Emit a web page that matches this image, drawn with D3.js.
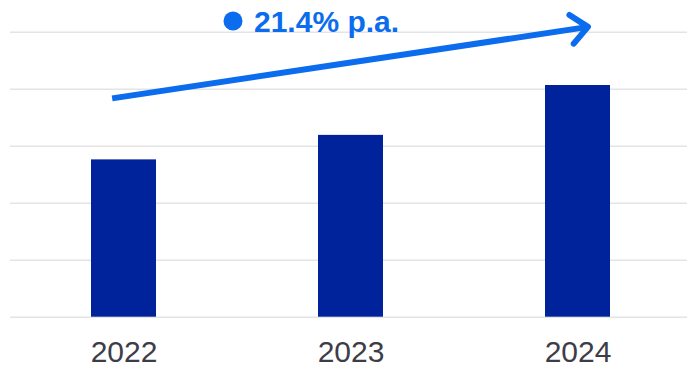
<!DOCTYPE html>
<html><head><meta charset="utf-8">
<script src="https://cdn.jsdelivr.net/npm/d3@7"></script>
<style>html,body{margin:0;padding:0;background:#fff;}svg{display:block;}</style>
</head><body>
<svg id="c" width="687" height="369"></svg>
<script>
const categories = ["2022", "2023", "2024"];
const values = [2.76, 3.19, 4.065];
const gridTicks = [0, 1, 2, 3, 4, 5];
const growthLabel = "21.4% p.a.";
// arrow annotation: [category offset, value]
const arrowStart = [ -0.05, 3.83 ];
const arrowEnd = [ 2.046, 5.085 ];

const svg = d3.select("#c");
const W = 687, H = 369;
const y = d3.scaleLinear().domain([0, 5]).range([316.7, 31.7]);
const x = d3.scalePoint().domain(categories).range([10, 691]).padding(0.5);
const idx = d3.scaleLinear().domain([0, 2]).range([x(categories[0]), x(categories[2])]);
const barW = 65;

// gridlines
const gAxis = svg.append("g").attr("transform", "translate(10,0)")
  .call(d3.axisLeft(y).tickValues(gridTicks).tickSize(-(W - 10)).tickFormat(""));
gAxis.select(".domain").remove();
gAxis.selectAll(".tick line").attr("stroke", "#e4e4e4").attr("stroke-width", 1.6);

// bars
svg.selectAll("rect.bar").data(values).join("rect")
  .attr("class", "bar")
  .attr("x", (d, i) => x(categories[i]) - barW / 2)
  .attr("y", d => y(d))
  .attr("width", barW)
  .attr("height", d => y(0) - y(d))
  .attr("fill", "#00229a");

// x labels
const xAxis = svg.append("g").attr("transform", `translate(0,${y(0)})`)
  .call(d3.axisBottom(x).tickSize(0).tickPadding(24));
xAxis.select(".domain").remove();
xAxis.selectAll("text").attr("font-family", "Liberation Sans, Arial, sans-serif")
  .attr("font-size", 30).attr("fill", "#3d3d47");

// arrow
const blue = "#0b6ced";
const x1 = idx(arrowStart[0]), y1 = y(arrowStart[1]);
const x2 = idx(arrowEnd[0]), y2 = y(arrowEnd[1]);
svg.append("line").attr("x1", x1).attr("y1", y1).attr("x2", x2 - 3).attr("y2", y2 + 0.5)
  .attr("stroke", blue).attr("stroke-width", 6);
const ang = Math.atan2(y2 - y1, x2 - x1);
const L = 22, spread = 0.72;
const p1 = [x2 - L * Math.cos(ang - spread), y2 - L * Math.sin(ang - spread)];
const p2 = [x2 - L * Math.cos(ang + spread), y2 - L * Math.sin(ang + spread)];
svg.append("path").attr("d", `M${p1}L${x2},${y2}L${p2}`)
  .attr("fill", "none").attr("stroke", blue).attr("stroke-width", 6)
  .attr("stroke-linecap", "round").attr("stroke-linejoin", "round");

// growth label
svg.append("circle").attr("cx", 233).attr("cy", 21).attr("r", 9.5).attr("fill", blue);
svg.append("text").attr("x", 254).attr("y", 31.7)
  .attr("font-family", "Liberation Sans, Arial, sans-serif").attr("font-weight", "bold")
  .attr("font-size", 30).attr("fill", blue).text(growthLabel);
</script>
</body></html>
